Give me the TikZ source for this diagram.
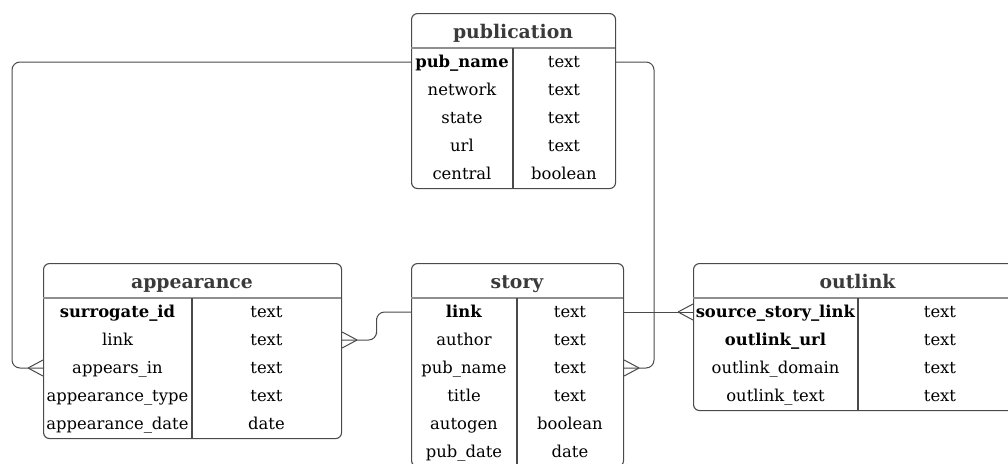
\documentclass[tikz,border=0pt]{standalone}
\usepackage{fontspec}
\setmainfont{DejaVu Serif}
\usepackage{tikz}
\usetikzlibrary{positioning,calc}
\usepackage{xcolor}

\definecolor{edgegray}{HTML}{4A4A4A}
\definecolor{headgray}{HTML}{3A3A3A}
\definecolor{rulegray}{HTML}{8F8F8F}

\tikzset{
  tbl/.style={draw=edgegray,line width=1.1pt,rounded corners=6pt,inner sep=0pt,anchor=north west},
  header/.style={font=\fontsize{18.8}{22}\selectfont\bfseries,text=headgray,anchor=base},
  field/.style={font=\fontsize{16.4}{19}\selectfont,text=black,inner sep=0pt,text height=12pt,text depth=0.5pt},
  hrule/.style={draw=rulegray,line width=1.8pt},
  vrule/.style={draw=edgegray,line width=1.1pt},
  conn/.style={draw=edgegray,line width=1pt,rounded corners=8pt},
  crow/.pic={\draw[edgegray,line width=1pt] (-15,0) -- (0,8) (-15,0) -- (0,-8);}
}

\begin{document}
\begin{tikzpicture}[x=1pt,y=-1pt]
\useasboundingbox (0,0) rectangle (1008,463);
\clip (0,0) rectangle (1008,463);

% publication
\node[tbl,minimum width=204pt,minimum height=175pt] (publication) at (411,13) {};
\node[header] (publication-h) at (513,38.5) {publication};
\draw[hrule] (411,48) -- (615,48);
\draw[vrule] (513,48) -- (513,188);
\foreach \n/\t [count=\i] in {\textbf{pub\_name}/text,network/text,state/text,url/text,central/boolean}{
  \node[field] (pub-\i) at (462,34+28*\i) {\n};
  \node[field] (pub-\i-t) at (564,34+28*\i) {\t};
}

% appearance
\node[tbl,minimum width=298pt,minimum height=175pt] (appearance) at (43,263) {};
\node[header] (appearance-h) at (192,288.5) {appearance};
\draw[hrule] (43,298) -- (341,298);
\draw[vrule] (192,298) -- (192,438);
\foreach \n/\t [count=\i] in {\textbf{surrogate\_id}/text,link/text,appears\_in/text,appearance\_type/text,appearance\_date/date}{
  \node[field] (app-\i) at (117.5,284+28*\i) {\n};
  \node[field] (app-\i-t) at (266.5,284+28*\i) {\t};
}

% story
\node[tbl,minimum width=212pt,minimum height=203pt] (story) at (411,263) {};
\node[header] (story-h) at (517,288.5) {story};
\draw[hrule] (411,298) -- (623,298);
\draw[vrule] (517,298) -- (517,466);
\foreach \n/\t [count=\i] in {\textbf{link}/text,author/text,pub\_name/text,title/text,autogen/boolean,pub\_date/date}{
  \node[field] (sto-\i) at (464,284+28*\i) {\n};
  \node[field] (sto-\i-t) at (570,284+28*\i) {\t};
}

% outlink
\node[tbl,minimum width=329pt,minimum height=147pt] (outlink) at (693,263) {};
\node[header] (outlink-h) at (857.5,288.5) {outlink};
\draw[hrule] (693,298) -- (1022,298);
\draw[vrule] (858,298) -- (858,410);
\foreach \n/\t [count=\i] in {\textbf{source\_story\_link}/text,\textbf{outlink\_url}/text,outlink\_domain/text,outlink\_text/text}{
  \node[field] (out-\i) at (775.5,284+28*\i) {\n};
  \node[field] (out-\i-t) at (940,284+28*\i) {\t};
}

% relations
\coordinate (lbus) at (12,0);
\coordinate (rbus) at (654,0);
\draw[conn] (publication.west |- pub-1) -| (lbus |- app-3) -- (appearance.west |- app-3);
\pic at (appearance.west |- app-3) {crow};
\draw[conn] (publication.east |- pub-1) -| (rbus |- sto-3) -- (story.east |- sto-3);
\pic[xscale=-1] at (story.east |- sto-3) {crow};
\draw[conn] (story.west |- sto-1) -| ($(story.west |- sto-1)!0.5!(appearance.east |- app-2)$) |- (appearance.east |- app-2);
\pic[xscale=-1] at (appearance.east |- app-2) {crow};
\draw[conn] (story.east |- sto-1) -- (outlink.west |- out-1);
\pic at (outlink.west |- out-1) {crow};
\end{tikzpicture}
\end{document}
